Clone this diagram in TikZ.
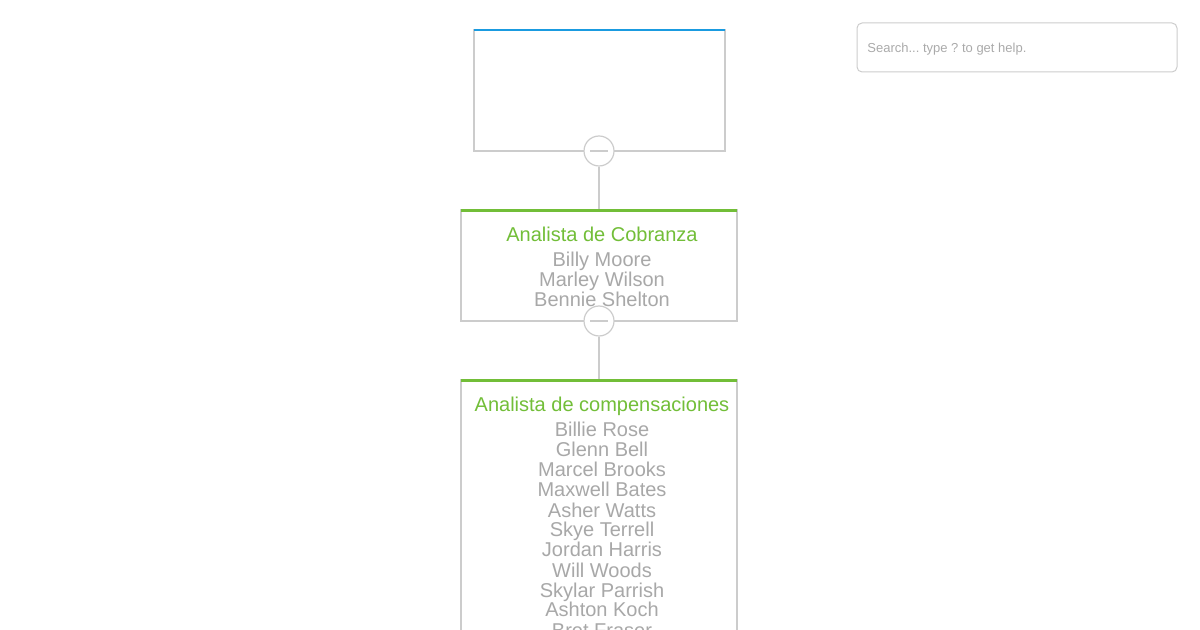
\documentclass[tikz,border=0pt]{standalone}
\usepackage{fontspec}
\setmainfont{Liberation Sans}
\frenchspacing
\definecolor{bordergray}{HTML}{CCCCCC}
\definecolor{textgray}{HTML}{A8A8A8}
\definecolor{titlegreen}{HTML}{72BE38}
\definecolor{topblue}{HTML}{1A9BE0}
\definecolor{searchgray}{HTML}{AAAAAA}
\tikzset{
  card/.style={draw=bordergray, line width=0.6pt, fill=white},
  toggle/.style={circle, draw=bordergray, line width=0.6pt, fill=white, minimum size=15pt, inner sep=0pt},
  link/.style={draw=bordergray, line width=0.8pt},
  titletext/.style={text=titlegreen, font=\fontsize{10pt}{10pt}\selectfont, anchor=base, inner sep=0pt},
  nametext/.style={text=textgray, font=\fontsize{10pt}{10pt}\selectfont, anchor=base, inner sep=0pt},
}
\begin{document}
\begin{tikzpicture}[x=0.5pt,y=-0.5pt]
\useasboundingbox (0,0) rectangle (1200,630);
\clip (0,0) rectangle (1200,630);
% search box
\node[draw=bordergray, line width=0.5pt, rounded corners=2.5pt, minimum width=160pt, minimum height=24.5pt, inner sep=0pt] (search) at (1017,47.5) {};
\node[text=searchgray, font=\fontsize{6.5pt}{6.5pt}\selectfont, anchor=base west, inner sep=0pt] (searchtxt) at (867,53) {Search... type ? to get help.};
% top card
\path[card] (474,30) rectangle (725,151);
\coordinate (topcard) at (599,151);
\draw[topblue, line width=1pt] (474,30) -- (725,30);
% card 2
\path[card] (461,210) rectangle (737,321);
\draw[titlegreen, line width=1.5pt] (461,210.5) -- (737,210.5);
\node[titletext] (t2) at (602,242) {Analista de Cobranza};
\foreach \n [count=\i] in {Billy Moore, Marley Wilson, Bennie Shelton}
  \node[nametext] (a\i) at (602,247+20*\i) {\n};
\coordinate (card2top) at (599,209);
% card 3
\path[card] (461,380) rectangle (737,700);
\draw[titlegreen, line width=1.5pt] (461,380.5) -- (737,380.5);
\node[titletext] (t3) at (602,412) {Analista de compensaciones};
\foreach \n [count=\i] in {Billie Rose, Glenn Bell, Marcel Brooks, Maxwell Bates, Asher Watts, Skye Terrell, Jordan Harris, Will Woods, Skylar Parrish, Ashton Koch, Bret Fraser}
  \node[nametext] (b\i) at (602,417+20*\i) {\n};
\coordinate (card3top) at (599,379);
% toggles and links
\node[toggle] (c1) at (599,151) {};
\draw[bordergray, line width=0.6pt] ([xshift=-4.5pt]c1.center) -- ([xshift=4.5pt]c1.center);
\node[toggle] (c2) at (599,321) {};
\draw[bordergray, line width=0.6pt] ([xshift=-4.5pt]c2.center) -- ([xshift=4.5pt]c2.center);
\draw[link] (c1.south) -- (card2top);
\draw[link] (c2.south) -- (card3top);
\end{tikzpicture}
\end{document}
